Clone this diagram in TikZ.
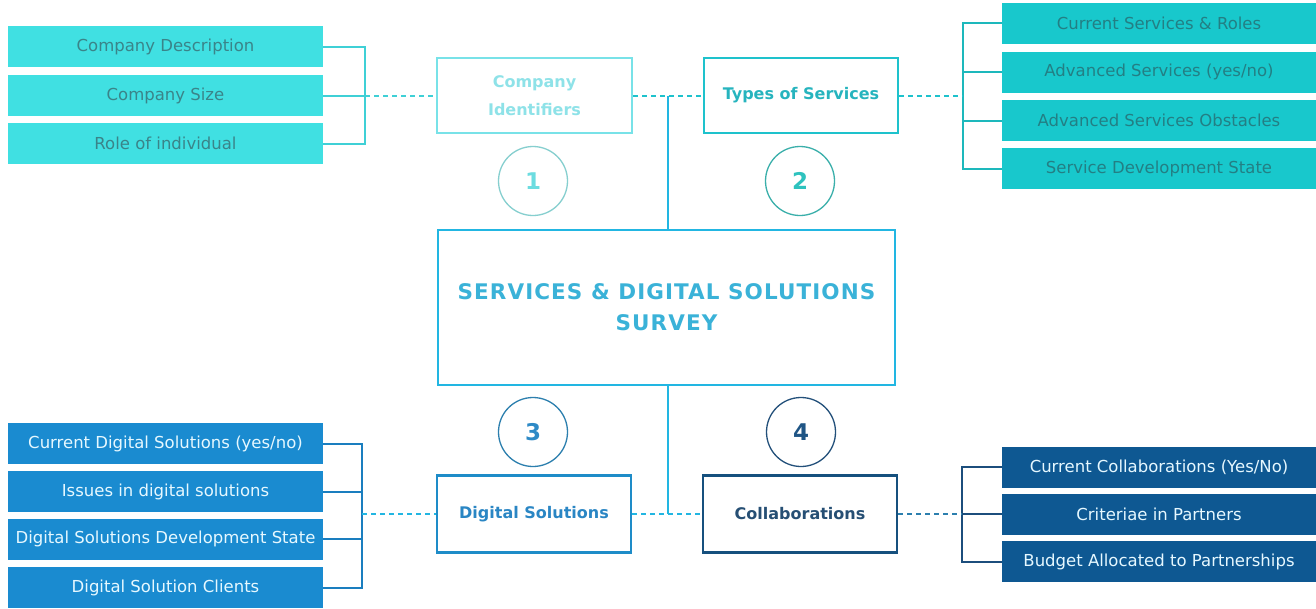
\documentclass[tikz,border=0pt]{standalone}
\usepackage{fontspec}
\setmainfont{DejaVu Sans}
\newfontfamily\headfont[LetterSpace=5]{DejaVu Sans}

% palette
\definecolor{tlfill}{HTML}{40E0E2}
\definecolor{tltext}{HTML}{3A8489}
\definecolor{trfill}{HTML}{18C8CC}
\definecolor{trtext}{HTML}{237F84}
\definecolor{blfill}{HTML}{1A8BD0}
\definecolor{brfill}{HTML}{0E5892}
\definecolor{lighttext}{HTML}{E6F8FF}
\definecolor{pale}{HTML}{78E2E8}
\definecolor{paletext}{HTML}{8EE2E8}
\definecolor{midcyan}{HTML}{1EC2CC}
\definecolor{midtext}{HTML}{26B4BE}
\definecolor{hub}{HTML}{22B6E2}
\definecolor{hubtext}{HTML}{3AB2D8}
\definecolor{digline}{HTML}{1E8CC8}
\definecolor{digtext}{HTML}{2A86C4}
\definecolor{colline}{HTML}{16507E}
\definecolor{coltext}{HTML}{264F74}
\definecolor{ringA}{HTML}{86CFCF}
\definecolor{ringB}{HTML}{3AAFAA}
\definecolor{ringC}{HTML}{2C7FAE}
\definecolor{ringD}{HTML}{23507A}
\definecolor{numA}{HTML}{6CDCE0}
\definecolor{numB}{HTML}{2EC2BE}
\definecolor{numC}{HTML}{2E8AC6}
\definecolor{numD}{HTML}{1F5585}
\definecolor{brkA}{HTML}{3FD0D6}
\definecolor{brkB}{HTML}{1DB8BC}
\definecolor{brkC}{HTML}{1A7EBF}
\definecolor{brkD}{HTML}{1C4E7C}

\begin{document}
\begin{tikzpicture}[x=1pt,y=-1pt,
  item/.style={rectangle, minimum width=315pt, minimum height=41pt, inner sep=0pt,
    font=\fontsize{16.5}{18}\selectfont},
  sect/.style={rectangle, draw, line width=2.5pt, minimum width=194pt, minimum height=75pt,
    inner sep=0pt, align=center, font=\bfseries\fontsize{16}{28}\selectfont},
  ring/.style={circle, draw, line width=1.3pt, minimum size=69pt, inner sep=0pt,
    font=\bfseries\fontsize{23}{24}\selectfont},
  bracket/.style={line width=2pt},
  dashline/.style={line width=2pt, dash pattern=on 5pt off 4pt},
]
\useasboundingbox (0,0) rectangle (1316,608);
\fill[white] (0,0) rectangle (1316,608);

% company identifier items
\node[item, fill=tlfill, text=tltext] (tl1) at (165.5,46.5) {Company Description};
\node[item, fill=tlfill, text=tltext] (tl2) at (165.5,95.5) {Company Size};
\node[item, fill=tlfill, text=tltext] (tl3) at (165.5,143.5) {Role of individual};

% service items
\node[item, minimum width=314pt, fill=trfill, text=trtext] (tr1) at (1159,23) {Current Services \& Roles};
\node[item, minimum width=314pt, fill=trfill, text=trtext] (tr2) at (1159,72) {Advanced Services (yes/no)};
\node[item, minimum width=314pt, fill=trfill, text=trtext] (tr3) at (1159,120.5) {Advanced Services Obstacles};
\node[item, minimum width=314pt, fill=trfill, text=trtext] (tr4) at (1159,168.5) {Service Development State};

% digital solution items
\node[item, fill=blfill, text=lighttext] (bl1) at (165.5,443.5) {Current Digital Solutions (yes/no)};
\node[item, fill=blfill, text=lighttext] (bl2) at (165.5,491.5) {Issues in digital solutions};
\node[item, fill=blfill, text=lighttext] (bl3) at (165.5,539) {Digital Solutions Development State};
\node[item, fill=blfill, text=lighttext] (bl4) at (165.5,587.5) {Digital Solution Clients};

% collaboration items
\node[item, minimum width=314pt, fill=brfill, text=lighttext] (br1) at (1159,467) {Current Collaborations (Yes/No)};
\node[item, minimum width=314pt, fill=brfill, text=lighttext] (br2) at (1159,514) {Criteriae in Partners};
\node[item, minimum width=314pt, fill=brfill, text=lighttext] (br3) at (1159,561.5) {Budget Allocated to Partnerships};

% section boxes
\node[sect, draw=pale, text=paletext, minimum width=195pt] (cid) at (534.5,95.5) {Company\\Identifiers};
\node[sect, draw=midcyan, text=midtext] (tos) at (801,95.5) {Types of Services};
\node[sect, draw=digline, text=digtext, minimum height=77pt] (dig) at (534,514) {Digital Solutions};
\node[sect, draw=colline, text=coltext, minimum height=77pt] (col) at (800,514) {Collaborations};

% central survey box
\node[rectangle, draw=hub, line width=2.5pt, minimum width=457pt, minimum height=155pt,
  inner sep=0pt, align=center, text=hubtext,
  font=\headfont\bfseries\fontsize{21.5}{31}\selectfont] (survey) at (666.5,307.5)
  {SERVICES \& DIGITAL SOLUTIONS\\SURVEY};

% numbered rings
\node[ring, draw=ringA, text=numA] (n1) at (533,181) {1};
\node[ring, draw=ringB, text=numB] (n2) at (800,181) {2};
\node[ring, draw=ringC, text=numC] (n3) at (533,432) {3};
\node[ring, draw=ringD, text=numD] (n4) at (801,432) {4};

% junction points
\coordinate (tlb) at (365,95.5);
\coordinate (trb) at (963,95.5);
\coordinate (blb) at (362,514);
\coordinate (brb) at (962,514);
\coordinate (hubtop) at (668,95.5);
\coordinate (hubbot) at (668,514);

% brackets
\draw[bracket, brkA] (tl1.east) -- (tl1.east -| tlb) -- (tl3.east -| tlb) -- (tl3.east);
\draw[bracket, brkA] (tl2.east) -- (tlb);
\draw[bracket, brkB] (tr1.west) -- (tr1.west -| trb) -- (tr4.west -| trb) -- (tr4.west);
\draw[bracket, brkB] (tr2.west) -- (tr2.west -| trb);
\draw[bracket, brkB] (tr3.west) -- (tr3.west -| trb);
\draw[bracket, brkC] (bl1.east) -- (bl1.east -| blb) -- (bl4.east -| blb) -- (bl4.east);
\draw[bracket, brkC] (bl2.east) -- (bl2.east -| blb);
\draw[bracket, brkC] (bl3.east) -- (bl3.east -| blb);
\draw[bracket, brkD] (br1.west) -- (br1.west -| brb) -- (br3.west -| brb) -- (br3.west);
\draw[bracket, brkD] (br2.west) -- (brb);

% dashed links
\draw[dashline, brkA] (tlb) -- (cid.west);
\draw[dashline, midcyan] (cid.east) -- (tos.west);
\draw[dashline, midcyan] (tos.east) -- (trb);
\draw[dashline, hub] (blb) -- (dig.west);
\draw[dashline, hub] (dig.east) -- (col.west);
\draw[dashline, ringC] (col.east) -- (brb);

% hub spine
\draw[line width=2pt, hub] (hubtop) -- (hubtop |- survey.north);
\draw[line width=2pt, hub] (survey.south -| hubbot) -- (hubbot);
\end{tikzpicture}
\end{document}
